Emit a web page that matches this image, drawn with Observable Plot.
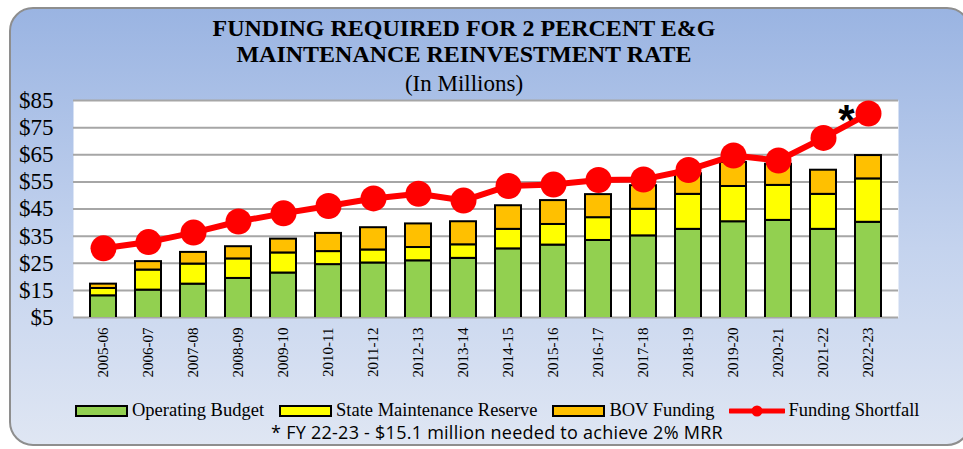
<!DOCTYPE html>
<html><head><meta charset="utf-8">
<script src="https://cdn.jsdelivr.net/npm/d3@7"></script>
<script src="https://cdn.jsdelivr.net/npm/@observablehq/plot@0.6"></script>
<style>
html,body{margin:0;padding:0;background:#fff;}
#wrap{position:relative;width:963px;height:449px;overflow:hidden;background:#fff;}
#panel{position:absolute;left:9px;top:7px;width:962px;height:439px;border:2px solid #8e8e8e;border-radius:24px;background:linear-gradient(#9ab4e2,#c4d3ee 55%,#dfe6f3);box-sizing:border-box;}
.t{position:absolute;left:0;width:928px;text-align:center;font-family:"Liberation Serif",serif;color:#000;white-space:nowrap;line-height:26px;}
#t1{top:15px;font-size:24px;font-weight:bold;}
#t2{top:41px;font-size:24px;font-weight:bold;}
#t3{top:71px;font-size:23px;}
#chart{position:absolute;left:0;top:0;}
#legend{position:absolute;top:400px;left:75px;height:20px;display:flex;align-items:center;font-family:"Liberation Serif",serif;font-size:18.5px;white-space:nowrap;color:#000;}
.sw{display:inline-block;width:49px;height:8px;border:2px solid #000;margin-right:4px;position:relative;top:1px;}
.it{margin-right:15px;}
.ln{display:inline-block;position:relative;width:56px;height:20px;margin-right:3px;top:1px;}
#note{position:absolute;top:422px;left:0;width:994px;text-align:center;font-family:"Open Sans",sans-serif;font-size:18px;letter-spacing:0.25px;line-height:20px;color:#000;white-space:nowrap;}
</style></head>
<body>
<div id="wrap">
  <div id="panel"></div>
  <div class="t" id="t1">FUNDING REQUIRED FOR 2 PERCENT E&amp;G</div>
  <div class="t" id="t2">MAINTENANCE REINVESTMENT RATE</div>
  <div class="t" id="t3">(In Millions)</div>
  <div id="chart"></div>
  <div id="legend"></div>
  <div id="note">* FY 22-23 - $15.1 million needed to achieve 2% MRR</div>
</div>
<script>
const years = ["2005-06","2006-07","2007-08","2008-09","2009-10","2010-11","2011-12","2012-13","2013-14","2014-15","2015-16","2016-17","2017-18","2018-19","2019-20","2020-21","2021-22","2022-23"];
const operatingBudget = [13.0,15.1,17.3,19.4,21.4,24.5,25.1,25.9,26.8,30.3,31.7,33.4,35.1,37.5,40.3,40.8,37.5,40.1];
const stateReserve    = [2.7,7.4,7.4,7.2,7.4,4.8,4.8,4.9,5.0,7.2,7.6,8.4,9.8,12.9,13.0,12.9,12.9,16.0];
const bovFunding      = [1.6,3.1,4.3,4.5,5.1,6.7,8.2,8.7,8.5,8.7,8.8,8.5,8.7,7.6,8.9,7.8,8.9,8.6];
const fundingShortfall = [30.5,32.8,36.3,40.4,43.4,46.1,48.9,50.6,48.1,53.5,54.0,55.7,55.9,59.4,64.7,62.9,71.2,80.2];
const yTicks = [5,15,25,35,45,55,65,75,85];
const seriesNames = ["Operating Budget","State Maintenance Reserve","BOV Funding"];
const seriesColors = ["#92d050","#ffff00","#ffc000"];
const lineName = "Funding Shortfall";
const lineColor = "#ff0000";
const notes = [{year:"2022-23", value:80.2, label:"*"}];

const seriesValues = [operatingBudget, stateReserve, bovFunding];
const rows = years.flatMap((yr,i)=>seriesNames.map((s,k)=>({year:yr, series:s, value:seriesValues[k][i]})));
const lineData = years.map((yr,i)=>({year:yr, value:fundingShortfall[i]}));

const chart = Plot.plot({
  width:963, height:390,
  marginLeft:73, marginRight:65, marginTop:100, marginBottom:73,
  style:{fontFamily:"Liberation Serif", fontSize:"15px", color:"#000", background:"transparent", overflow:"visible"},
  x:{domain:years, paddingInner:0.42, paddingOuter:0.21, label:null},
  y:{domain:[5,85], label:null},
  color:{domain:seriesNames, range:seriesColors},
  marks:[
    Plot.frame({fill:"white", stroke:null}),
    Plot.gridY(yTicks, {stroke:"#a6a6a6", strokeOpacity:1, strokeWidth:2}),
    Plot.barY(rows, Plot.stackY({x:"year", y:"value", fill:"series", stroke:"#000", strokeWidth:2, clip:true})),
    Plot.line(lineData, {x:"year", y:"value", stroke:lineColor, strokeWidth:6}),
    Plot.dot(lineData, {x:"year", y:"value", r:13, fill:lineColor, stroke:null}),
    Plot.text(notes, {x:"year", y:"value", text:"label", dx:-22, dy:7, fontSize:42, fontWeight:"bold", fontFamily:"Liberation Sans", fill:"#000"}),
    Plot.axisX({tickSize:0, tickPadding:10, tickRotate:-90, fontSize:15}),
    Plot.axisY(yTicks, {tickSize:0, tickPadding:20, tickFormat:d=>"$"+d, fontSize:23})
  ]
});
document.getElementById("chart").appendChild(chart);

const legend = document.getElementById("legend");
seriesNames.forEach((s,k)=>{
  const sw = document.createElement("span"); sw.className="sw"; sw.style.background=seriesColors[k];
  const tx = document.createElement("span"); tx.className="it"; tx.textContent=s;
  legend.appendChild(sw); legend.appendChild(tx);
});
const ln = document.createElement("span"); ln.className="ln";
ln.innerHTML = `<svg width="56" height="20"><line x1="1" x2="55" y1="10" y2="10" stroke="${lineColor}" stroke-width="5" stroke-linecap="round"/><circle cx="28" cy="10" r="5.5" fill="${lineColor}"/></svg>`;
legend.appendChild(ln);
const lt = document.createElement("span"); lt.textContent=lineName; legend.appendChild(lt);
</script>
</body></html>
